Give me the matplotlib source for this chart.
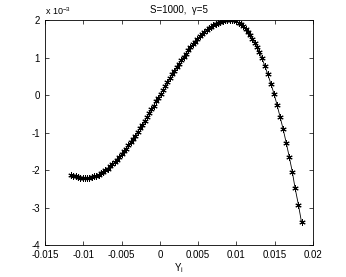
import numpy as np
import matplotlib
matplotlib.use('Agg')
import matplotlib.pyplot as plt

plt.rcParams['font.family'] = ['Liberation Sans', 'DejaVu Sans']
plt.rcParams['axes.unicode_minus'] = False

# Y_i values along the trajectory
yi = [-0.0116, -0.0113, -0.0110, -0.0107, -0.0104, -0.0101, -0.0098, -0.0095,
      -0.0092, -0.0089, -0.0086, -0.0083, -0.0080, -0.0077, -0.0074, -0.0071,
      -0.0068, -0.0065, -0.0062, -0.0059, -0.0056, -0.0053, -0.0050, -0.0047,
      -0.0044, -0.0041, -0.0038, -0.0035, -0.0032, -0.0029, -0.0026, -0.0023,
      -0.0020, -0.0017, -0.0014, -0.0011, -0.0008, -0.0005, -0.0002, 0.0001,
      0.0004, 0.0007, 0.0010, 0.0013, 0.0016, 0.0019, 0.0022, 0.0025,
      0.0028, 0.0031, 0.0034, 0.0037, 0.0040, 0.0043, 0.0046, 0.0049,
      0.0052, 0.0055, 0.0058, 0.0061, 0.0064, 0.0067, 0.0070, 0.0073,
      0.0076, 0.0079, 0.0082, 0.0085, 0.0088, 0.0091, 0.0094, 0.0097,
      0.0100, 0.0103, 0.0106, 0.0109, 0.0112, 0.0115, 0.0118, 0.0121,
      0.0124, 0.0127, 0.0130, 0.0133, 0.0137, 0.0141, 0.0145, 0.0149,
      0.0153, 0.0157, 0.0161, 0.0165, 0.0169, 0.0173, 0.01765, 0.0181,
      0.0185]

# response, in units of 1e-3
resp = [-2.12, -2.15, -2.17, -2.19, -2.20, -2.21, -2.21, -2.21,
        -2.20, -2.19, -2.17, -2.15, -2.12, -2.08, -2.05, -2.00,
        -1.96, -1.90, -1.85, -1.79, -1.72, -1.65, -1.58, -1.50,
        -1.43, -1.34, -1.26, -1.17, -1.08, -0.98, -0.88, -0.79,
        -0.69, -0.59, -0.49, -0.38, -0.28, -0.17, -0.07, 0.03,
        0.14, 0.24, 0.34, 0.45, 0.55, 0.64, 0.74, 0.84,
        0.93, 1.02, 1.10, 1.19, 1.27, 1.35, 1.42, 1.49,
        1.56, 1.62, 1.68, 1.73, 1.78, 1.82, 1.86, 1.90,
        1.93, 1.95, 1.97, 1.99, 2.00, 2.00, 2.00, 1.99,
        1.96, 1.93, 1.88, 1.83, 1.76, 1.69, 1.60, 1.50,
        1.39, 1.27, 1.14, 1.00, 0.78, 0.55, 0.30, 0.04,
        -0.26, -0.58, -0.91, -1.27, -1.65, -2.05, -2.47, -2.93,
        -3.39]

xticks = [-0.015, -0.01, -0.005, 0, 0.005, 0.01, 0.015, 0.02]
xlabels = ['-0.015', '-0.01', '-0.005', '0', '0.005', '0.01', '0.015', '0.02']
yticks = [-4, -3, -2, -1, 0, 1, 2]

fig = plt.figure(figsize=(3.46, 2.77), dpi=100)
ax = fig.add_axes([0.130, 0.1155, 0.7746, 0.8123])

# matlab style '*' marker = asterisk
ax.plot(yi, resp, '-', color='k', lw=0.6, marker=(6, 2, 0), ms=4.5, mew=0.7)

ax.set_xlim(-0.015, 0.02)
ax.set_ylim(-4, 2)
ax.set_xticks(xticks)
ax.set_xticklabels(xlabels)
ax.set_yticks(yticks)
ax.tick_params(direction='in', top=True, right=True, labelsize=7,
               length=3, width=0.5)
ax.tick_params(axis='x', pad=3.5)
ax.tick_params(axis='y', pad=3.5)
for s in ax.spines.values():
    s.set_linewidth(0.6)

ax.set_title('S=1000,  \u03b3=5', fontsize=7, pad=5)
ax.set_xlabel('Y$_\\mathregular{i}$', fontsize=7, labelpad=1)
ax.text(0.0, 1.012, 'x 10$^{\\mathregular{-3}}$', transform=ax.transAxes,
        fontsize=6.5, ha='left', va='bottom')

fig.savefig('out.png', dpi=100)
